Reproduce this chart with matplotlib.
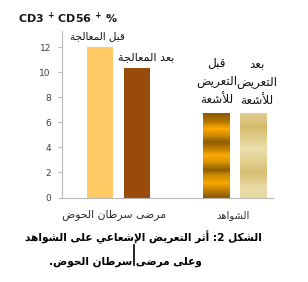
import numpy as np
import matplotlib
matplotlib.use("Agg")
import matplotlib.pyplot as plt
from matplotlib.colors import LinearSegmentedColormap
from matplotlib.lines import Line2D

# ---------------- data ----------------
groups = ["مرضى سرطان الحوض", "الشواهد"]
patients_labels = ["قبل المعالجة", "بعد المعالجة"]
controls_labels = ["قبل\nالتعريض\nللأشعة", "بعد\nالتعريض\nللأشعة"]
patients_values = [12.0, 10.3]
controls_values = [6.7, 6.7]
yticks = [0, 2, 4, 6, 8, 10, 12]
title_text = r"CD3 $^{\mathbf{+}}$ CD56 $^{\mathbf{+}}$ %"
caption_line1 = "الشكل 2: أثر التعريض الإشعاعي على الشواهد"
caption_line2 = "وعلى مرضى سرطان الحوض."
caption_line2_after_cursor = "سرطان الحوض."

# ---------------- simple Arabic shaping ----------------
# (isolated, final, initial, medial)
FORMS = {
    'ء': ('\uFE80', None, None, None),
    'آ': ('\uFE81', '\uFE82', None, None),
    'أ': ('\uFE83', '\uFE84', None, None),
    'ؤ': ('\uFE85', '\uFE86', None, None),
    'إ': ('\uFE87', '\uFE88', None, None),
    'ئ': ('\uFE89', '\uFE8A', '\uFE8B', '\uFE8C'),
    'ا': ('\uFE8D', '\uFE8E', None, None),
    'ب': ('\uFE8F', '\uFE90', '\uFE91', '\uFE92'),
    'ة': ('\uFE93', '\uFE94', None, None),
    'ت': ('\uFE95', '\uFE96', '\uFE97', '\uFE98'),
    'ث': ('\uFE99', '\uFE9A', '\uFE9B', '\uFE9C'),
    'ج': ('\uFE9D', '\uFE9E', '\uFE9F', '\uFEA0'),
    'ح': ('\uFEA1', '\uFEA2', '\uFEA3', '\uFEA4'),
    'خ': ('\uFEA5', '\uFEA6', '\uFEA7', '\uFEA8'),
    'د': ('\uFEA9', '\uFEAA', None, None),
    'ذ': ('\uFEAB', '\uFEAC', None, None),
    'ر': ('\uFEAD', '\uFEAE', None, None),
    'ز': ('\uFEAF', '\uFEB0', None, None),
    'س': ('\uFEB1', '\uFEB2', '\uFEB3', '\uFEB4'),
    'ش': ('\uFEB5', '\uFEB6', '\uFEB7', '\uFEB8'),
    'ص': ('\uFEB9', '\uFEBA', '\uFEBB', '\uFEBC'),
    'ض': ('\uFEBD', '\uFEBE', '\uFEBF', '\uFEC0'),
    'ط': ('\uFEC1', '\uFEC2', '\uFEC3', '\uFEC4'),
    'ظ': ('\uFEC5', '\uFEC6', '\uFEC7', '\uFEC8'),
    'ع': ('\uFEC9', '\uFECA', '\uFECB', '\uFECC'),
    'غ': ('\uFECD', '\uFECE', '\uFECF', '\uFED0'),
    'ف': ('\uFED1', '\uFED2', '\uFED3', '\uFED4'),
    'ق': ('\uFED5', '\uFED6', '\uFED7', '\uFED8'),
    'ك': ('\uFED9', '\uFEDA', '\uFEDB', '\uFEDC'),
    'ل': ('\uFEDD', '\uFEDE', '\uFEDF', '\uFEE0'),
    'م': ('\uFEE1', '\uFEE2', '\uFEE3', '\uFEE4'),
    'ن': ('\uFEE5', '\uFEE6', '\uFEE7', '\uFEE8'),
    'ه': ('\uFEE9', '\uFEEA', '\uFEEB', '\uFEEC'),
    'و': ('\uFEED', '\uFEEE', None, None),
    'ى': ('\uFEEF', '\uFEF0', None, None),
    'ي': ('\uFEF1', '\uFEF2', '\uFEF3', '\uFEF4'),
}
LAM_ALEF = {
    'آ': ('\uFEF5', '\uFEF6', None, None),
    'أ': ('\uFEF7', '\uFEF8', None, None),
    'إ': ('\uFEF9', '\uFEFA', None, None),
    'ا': ('\uFEFB', '\uFEFC', None, None),
}


def shape_ar(text):
    toks = []
    i = 0
    while i < len(text):
        c = text[i]
        if c == 'ل' and i + 1 < len(text) and text[i + 1] in LAM_ALEF:
            toks.append(LAM_ALEF[text[i + 1]])
            i += 2
            continue
        toks.append(FORMS.get(c, c))
        i += 1
    out = []
    for k, t in enumerate(toks):
        if isinstance(t, str):
            out.append(t)
            continue
        prev = toks[k - 1] if k > 0 else None
        nxt = toks[k + 1] if k + 1 < len(toks) else None
        jp = prev is not None and not isinstance(prev, str) and prev[2] is not None and t[1] is not None
        jn = t[2] is not None and nxt is not None and not isinstance(nxt, str) and nxt[1] is not None
        if jp and jn:
            out.append(t[3])
        elif jp:
            out.append(t[1])
        elif jn:
            out.append(t[2])
        else:
            out.append(t[0])
    return ''.join(out)[::-1]


def ar(text):
    return '\n'.join(shape_ar(line) for line in text.split('\n'))


# ---------------- figure ----------------
W, H = 308, 282
fig = plt.figure(figsize=(W / 100, H / 100), dpi=100)
fig.patch.set_facecolor('white')
renderer = fig.canvas.get_renderer()


def fx(px):
    return px / W


def fy(py):
    return 1 - py / H


def fit(t, target_w):
    """scale the font so that the text is target_w pixels wide"""
    for _ in range(3):
        w = t.get_window_extent(renderer=renderer).width
        t.set_fontsize(t.get_fontsize() * target_w / w)


ax = fig.add_axes([fx(62), fy(197.5), fx(273) - fx(62), fy(30.7) - fy(197.5)])

group_x = np.arange(len(groups))
offset = 0.16
width = 0.228

c_before = '#FFC966'
c_after = '#9A4B0C'
b1 = ax.bar(group_x[0] - offset, patients_values[0], width, color=c_before, zorder=2)
b2 = ax.bar(group_x[0] + offset, patients_values[1], width, color=c_after, zorder=2)
b3 = ax.bar(group_x[1] - offset, controls_values[0], width, color='none', zorder=2)
b4 = ax.bar(group_x[1] + offset, controls_values[1], width, color='none', zorder=2)

# gradient fills for control bars
cm_gold = LinearSegmentedColormap.from_list('gold', [
    (0.00, '#8a5800'), (0.08, '#b87a00'), (0.17, '#f7a600'), (0.27, '#c98a00'),
    (0.33, '#8e5c00'), (0.42, '#d89200'), (0.50, '#ffab00'), (0.58, '#c08000'),
    (0.66, '#8e5c00'), (0.74, '#d08c00'), (0.82, '#ffa800'), (0.90, '#b47600'),
    (1.00, '#8a5a00')])
cm_khaki = LinearSegmentedColormap.from_list('khaki', [
    (0.00, '#e8d9a2'), (0.12, '#e9dba6'), (0.30, '#d6bd72'), (0.42, '#e2cf8e'),
    (0.58, '#ecdfae'), (0.72, '#e0cb88'), (0.84, '#d5ba6c'), (1.00, '#e2cf90')])
grad = np.linspace(1, 0, 256).reshape(-1, 1)
for bars, cmap in ((b3, cm_gold), (b4, cm_khaki)):
    r = bars.patches[0]
    x0, y0 = r.get_x(), r.get_y()
    im = ax.imshow(grad, cmap=cmap, aspect='auto', zorder=2,
                   extent=[x0, x0 + r.get_width(), y0, y0 + r.get_height()],
                   interpolation='bilinear')
    im.set_clip_path(r)
ax.set_xlim(-0.487, 1.334)
ax.set_ylim(0, 13.3)

for s in ('top', 'right'):
    ax.spines[s].set_visible(False)
for s in ('left', 'bottom'):
    ax.spines[s].set_color('#b8b8b8')
    ax.spines[s].set_linewidth(0.8)
ax.set_yticks(yticks)
ax.set_yticklabels([str(v) for v in yticks])
ax.tick_params(axis='y', length=3, width=0.8, color='#b8b8b8', labelsize=6.5,
               labelcolor='#404040', pad=5)
ax.set_xticks([])

AR_FONT = dict(family='DejaVu Sans')

# group labels
g1 = fig.text(fx(114), fy(215), ar(groups[0]), ha='center', va='center',
              fontsize=7, color='#2a2a2a', **AR_FONT)
fit(g1, 104)
g2 = fig.text(fx(233.5), fy(215), ar(groups[1]), ha='center', va='center',
              fontsize=7, color='#2a2a2a', **AR_FONT)
fit(g2, 33)

# bar annotations
a1 = fig.text(fx(97.5), fy(36.5), ar(patients_labels[0]), ha='center', va='center',
              fontsize=7, color='#111111', **AR_FONT)
fit(a1, 55)
a2 = fig.text(fx(146.5), fy(57.5), ar(patients_labels[1]), ha='center', va='center',
              fontsize=7, color='#111111', **AR_FONT)
fit(a2, 56)
a3 = fig.text(fx(216.5), fy(81), ar(controls_labels[0]), ha='center', va='center',
              fontsize=7, color='#111111', linespacing=1.5, multialignment='center',
              **AR_FONT)
fit(a3, 41)
a4 = fig.text(fx(256.5), fy(82), ar(controls_labels[1]), ha='center', va='center',
              fontsize=7, color='#111111', linespacing=1.5, multialignment='center',
              **AR_FONT)
a4.set_fontsize(a3.get_fontsize())

# title
fig.text(fx(18), fy(18), title_text, ha='left', va='center', fontsize=8,
         fontweight='bold', color='#1a1a1a')

# caption
c1 = fig.text(fx(262), fy(237), ar(caption_line1), ha='right', va='center',
              fontsize=8, fontweight='bold', color='black', **AR_FONT)
fit(c1, 238)
c2 = fig.text(fx(202), fy(262), ar(caption_line2), ha='right', va='center',
              fontsize=c1.get_fontsize(), fontweight='bold', color='black', **AR_FONT)

# text cursor that sits between two words of the second caption line
c2_box = c2.get_window_extent(renderer=renderer)
tmp = fig.text(0, 0, ar(caption_line2_after_cursor), fontsize=c2.get_fontsize(),
               fontweight='bold', **AR_FONT)
w_left = tmp.get_window_extent(renderer=renderer).width
tmp_sp = fig.text(0, 0, ar(caption_line2_after_cursor) + ' ', fontsize=c2.get_fontsize(),
                  fontweight='bold', **AR_FONT)
w_sp = tmp_sp.get_window_extent(renderer=renderer).width - w_left
tmp.remove()
tmp_sp.remove()
cur_x = c2_box.x0 + w_left + w_sp * 0.5
fig.add_artist(Line2D([cur_x / W, cur_x / W], [fy(245), fy(265)], color='black', lw=1.2))

fig.savefig('out.png', dpi=100, facecolor='white')
